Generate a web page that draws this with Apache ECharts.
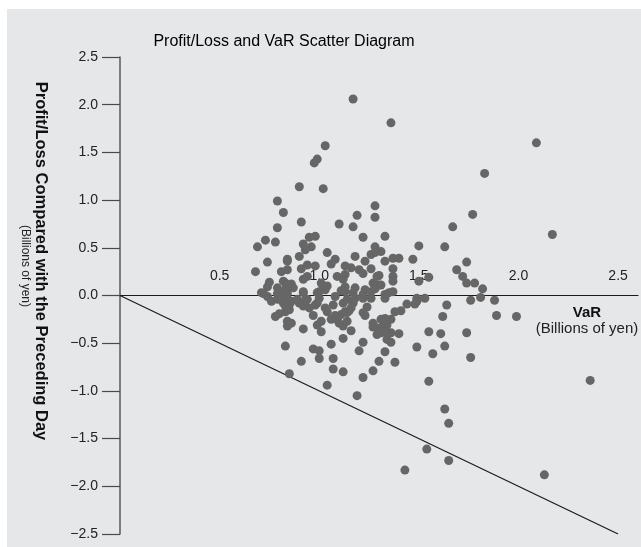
<!DOCTYPE html>
<html>
<head>
    <meta charset="UTF-8">
    <title>Profit/Loss and VaR Scatter Diagram</title>
    <script src="https://cdn.jsdelivr.net/npm/echarts@6/dist/echarts.min.js"></script>
</head>
<body style="margin:0;background:#fff;">
    <div id="chart" style="width: 641px; height: 547px;"></div>
    <script>
        // [VaR, profit/loss] in billions of yen
        var upperPoints = [
            [1.17, 2.06], [1.36, 1.81], [1.03, 1.57], [2.09, 1.60], [0.99, 1.43], [0.975, 1.39],
            [0.90, 1.14], [1.02, 1.12], [1.83, 1.28], [0.79, 0.99], [0.82, 0.87], [1.28, 0.94], [1.28, 0.82], [1.19, 0.84],
            [1.77, 0.85], [1.67, 0.72], [2.17, 0.64], [0.91, 0.77], [0.79, 0.71], [1.10, 0.75], [1.17, 0.72],
            [1.22, 0.61], [1.33, 0.62], [0.73, 0.58], [0.78, 0.56], [0.69, 0.51], [0.92, 0.54], [0.95, 0.61], [0.98, 0.62],
            [0.96, 0.51], [0.93, 0.48], [0.90, 0.41], [1.50, 0.52], [1.63, 0.51], [1.04, 0.45], [1.08, 0.38], [1.06, 0.33],
            [0.84, 0.38], [0.84, 0.36], [0.74, 0.35], [0.68, 0.25], [0.81, 0.25], [0.84, 0.27], [0.91, 0.28], [0.94, 0.32], [0.98, 0.31],
            [1.18, 0.41], [1.23, 0.36], [1.26, 0.43], [1.28, 0.51], [1.31, 0.46], [1.28, 0.45],
            [1.13, 0.31], [1.16, 0.29], [1.20, 0.27], [1.22, 0.23], [1.26, 0.28],
            [1.33, 0.36], [1.37, 0.39], [1.40, 0.39], [1.47, 0.38], [1.37, 0.28], [1.37, 0.20],
            [1.74, 0.35], [1.69, 0.27], [1.72, 0.20], [1.74, 0.13], [1.78, 0.13], [1.82, 0.07],
            [1.30, 0.21], [1.37, 0.15], [1.31, 0.11], [1.50, 0.15], [1.55, 0.19],
            [1.37, 0.04], [1.35, 0.03], [1.33, 0.01],
            [0.75, 0.14], [0.74, 0.09], [0.72, 0.02], [0.79, 0.08], [0.80, 0.04], [0.83, 0.13], [0.86, 0.12], [0.87, 0.08],
            [0.82, 0.15], [0.85, 0.08], [0.83, 0.06], [0.92, 0.03], [0.92, 0.17], [0.94, 0.20],
            [1.01, 0.13], [1.02, 0.08], [1.00, 0.04], [1.04, 0.10], [1.03, 0.06],
            [1.09, 0.20], [1.12, 0.17], [1.13, 0.22], [1.13, 0.09], [1.11, 0.05],
            [1.18, 0.08], [1.23, 0.06], [1.26, 0.04], [1.29, 0.20], [1.30, 0.11], [1.27, 0.13], [1.22, 0.01], [1.28, 0.07],
            [1.17, 0.03], [1.13, 0.04], [0.71, 0.03], [0.79, 0.02], [0.84, 0.02], [0.92, 0.04], [0.99, 0.03]
        ];
        var lowerPoints = [
            [0.74, -0.01], [0.76, -0.06], [0.79, -0.04], [0.82, -0.08], [0.84, -0.03], [0.85, -0.10], [0.81, -0.03], [0.86, -0.06],
            [0.89, -0.04], [0.90, -0.08], [0.93, -0.06], [0.94, -0.04], [0.92, -0.11], [0.95, -0.13], [0.98, -0.10], [0.99, -0.08],
            [1.00, -0.03], [0.93, -0.05],
            [0.78, -0.22], [0.80, -0.19], [0.83, -0.17], [0.85, -0.15], [0.84, -0.27], [0.86, -0.29], [0.84, -0.32], [0.83, -0.11],
            [0.92, -0.35], [0.97, -0.21], [0.99, -0.31], [1.01, -0.27], [1.01, -0.38],
            [1.03, -0.13], [1.04, -0.17], [1.07, -0.10], [1.08, -0.21], [1.09, -0.25], [1.11, -0.20], [1.13, -0.17], [1.10, -0.29],
            [1.12, -0.32], [1.14, -0.27], [1.06, -0.25], [1.15, -0.16], [1.14, -0.04], [1.17, -0.08], [1.18, -0.03],
            [1.12, -0.08], [1.16, -0.13], [1.14, -0.18], [1.08, -0.01],
            [1.16, -0.37], [1.12, -0.45], [1.20, -0.58], [1.22, -0.49],
            [1.22, -0.03], [1.26, -0.03], [1.24, -0.12], [1.22, -0.18], [1.23, -0.21],
            [1.27, -0.29], [1.27, -0.33], [1.33, -0.24], [1.36, -0.25], [1.31, -0.25], [1.32, -0.32], [1.34, -0.31], [1.29, -0.34],
            [1.31, -0.39], [1.36, -0.39], [1.33, -0.38], [1.29, -0.41], [1.40, -0.40],
            [1.34, -0.46], [1.36, -0.49], [1.33, -0.59], [1.30, -0.69], [1.38, -0.70], [1.33, -0.03],
            [1.49, -0.03], [1.53, -0.03], [1.49, -0.06], [1.48, -0.09], [1.44, -0.09], [1.64, -0.10], [1.76, -0.05], [1.81, -0.02], [1.88, -0.05],
            [1.41, -0.16], [1.38, -0.17], [1.62, -0.22], [1.89, -0.21], [1.99, -0.22],
            [1.55, -0.38], [1.61, -0.40], [1.74, -0.39],
            [1.49, -0.54], [1.63, -0.53], [1.57, -0.61], [1.76, -0.65],
            [1.55, -0.90], [2.36, -0.89], [1.63, -1.19], [1.65, -1.34], [1.54, -1.61], [1.65, -1.73], [1.43, -1.83], [2.13, -1.88],
            [1.04, -0.94], [1.19, -1.05], [1.22, -0.86], [1.27, -0.79],
            [0.83, -0.53], [0.91, -0.69], [0.85, -0.82], [0.97, -0.56], [1.00, -0.58], [1.00, -0.66], [1.07, -0.66], [1.06, -0.51],
            [1.07, -0.77], [1.12, -0.80]
        ];
        // loss equal to VaR
        var refLineVaR = [0, 2.5];
        var refLinePL = [0, -2.5];

        var FONT = '"Liberation Sans", Arial, sans-serif';
        var dotColor = '#666666';

        // grid: y range -2.5..2.5 over 477px, so zero sits half way down
        var gridTop = 57, gridBottom = 13, chartH = 547;
        var zeroOffset = -(chartH - gridTop - gridBottom) / 2;

        function fmtY(v) {
            return (v < 0 ? '\u2212' : '') + Math.abs(v).toFixed(1);
        }
        function fmtX(v) {
            if (v <= 0 || Math.abs(v * 2 - Math.round(v * 2)) > 1e-6) return '';
            return v.toFixed(1);
        }

        var chart = echarts.init(document.getElementById('chart'), null, { renderer: 'canvas' });
        chart.setOption({
            animation: false,
            backgroundColor: '#ffffff',
            grid: { left: 120, right: 0, top: gridTop, bottom: gridBottom },
            xAxis: {
                type: 'value', min: 0, max: 2.6, interval: 0.5,
                offset: zeroOffset,
                axisLine: { onZero: false, lineStyle: { color: '#1a1a1a', width: 1.2 } },
                axisTick: { show: false },
                splitLine: { show: false },
                axisLabel: { inside: true, margin: 12, formatter: fmtX, fontSize: 14, color: '#222', fontFamily: FONT }
            },
            yAxis: {
                type: 'value', min: -2.5, max: 2.5, interval: 0.5,
                axisLine: { show: true, onZero: false, lineStyle: { color: '#5a5a5a', width: 1.5 } },
                axisTick: { show: true, length: 18, lineStyle: { color: '#4a4a4a', width: 1.2 } },
                splitLine: { show: false },
                axisLabel: { margin: 22, formatter: fmtY, fontSize: 14, color: '#222', fontFamily: FONT }
            },
            graphic: [
                { type: 'rect', z: -100, silent: true, shape: { x: 7, y: 9, width: 634, height: 538 }, style: { fill: '#e6e7e9' } },
                { type: 'text', x: 284, y: 42, style: { text: 'Profit/Loss and VaR Scatter Diagram', font: '16px ' + FONT, fill: '#000', align: 'center', verticalAlign: 'middle' } },
                { type: 'text', x: 41, y: 261, rotation: -Math.PI / 2, style: { text: 'Profit/Loss Compared with the Preceding Day', font: 'bold 16.5px ' + FONT, fill: '#111', align: 'center', verticalAlign: 'middle' } },
                { type: 'text', x: 25, y: 266, rotation: -Math.PI / 2, style: { text: '(Billions of yen)', font: '12px ' + FONT, fill: '#222', align: 'center', verticalAlign: 'middle' } },
                { type: 'text', x: 587, y: 313, style: { text: 'VaR', font: 'bold 15px ' + FONT, fill: '#111', align: 'center', verticalAlign: 'middle' } },
                { type: 'text', x: 587, y: 329, style: { text: '(Billions of yen)', font: '15px ' + FONT, fill: '#222', align: 'center', verticalAlign: 'middle' } }
            ],
            series: [
                {
                    type: 'line',
                    data: refLineVaR.map(function (v, i) { return [v, refLinePL[i]]; }),
                    showSymbol: false, symbol: 'none',
                    lineStyle: { color: '#1a1a1a', width: 1.2 },
                    silent: true, z: 1
                },
                { type: 'scatter', data: upperPoints, symbolSize: 9, itemStyle: { color: dotColor, opacity: 1 }, z: 3 },
                { type: 'scatter', data: lowerPoints, symbolSize: 9, itemStyle: { color: dotColor, opacity: 1 }, z: 3 }
            ]
        });
    </script>
</body>
</html>
